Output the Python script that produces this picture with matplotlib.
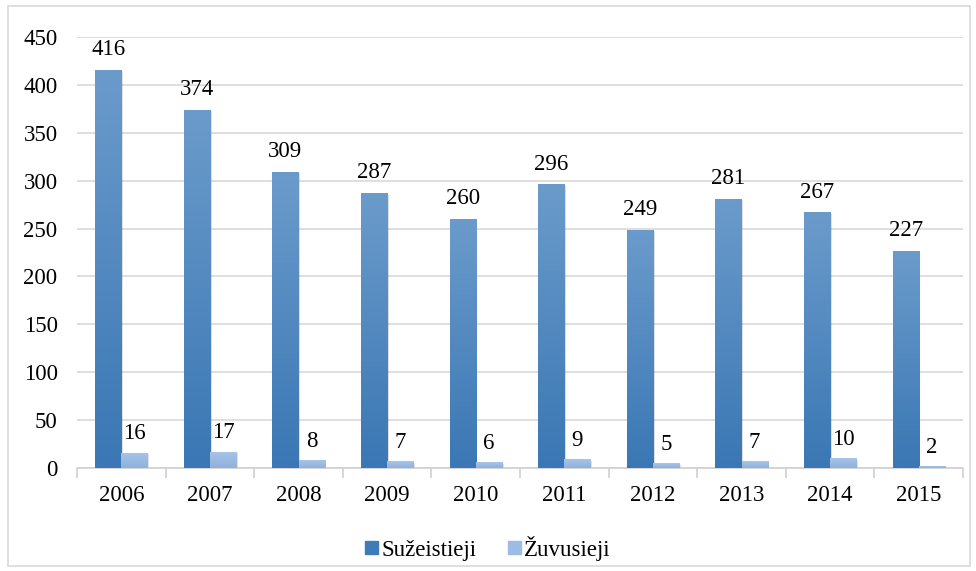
import matplotlib
matplotlib.use("Agg")
import matplotlib.pyplot as plt
import numpy as np
from matplotlib.colors import LinearSegmentedColormap
from matplotlib.patches import Rectangle

years = ["2006", "2007", "2008", "2009", "2010", "2011", "2012", "2013", "2014", "2015"]
suzeistieji = [416, 374, 309, 287, 260, 296, 249, 281, 267, 227]
zuvusieji = [16, 17, 8, 7, 6, 9, 5, 7, 10, 2]
series_names = ["Sužeistieji", "Žuvusieji"]

plt.rcParams['font.family'] = ['Liberation Serif', 'DejaVu Serif']
FS = 16.5

fig = plt.figure(figsize=(9.76, 5.71), dpi=100)
ax = fig.add_axes([0.0789, 0.1804, 0.9078, 0.7548])

x = np.arange(len(years))
w = 0.295
b1 = ax.bar(x - w/2, suzeistieji, w, color="#4F87C0", zorder=3)
b2 = ax.bar(x + w/2, zuvusieji, w, color="#9DBCE3", zorder=3)

ax.set_xlim(-0.5, len(years) - 0.5)
ax.set_ylim(0, 450)
ax.set_yticks(np.arange(0, 451, 50))

# gradients
cm1 = LinearSegmentedColormap.from_list("c1", ["#3A77B4", "#6B9BCB"])
cm2 = LinearSegmentedColormap.from_list("c2", ["#8EB1DD", "#A8C4E8"])
grad = np.linspace(0, 1, 256).reshape(-1, 1)
for bars, cm in ((b1, cm1), (b2, cm2)):
    for r in bars:
        bx, by = r.get_x(), r.get_y()
        bw, bh = r.get_width(), r.get_height()
        if bh <= 0:
            continue
        sh = Rectangle((bx + 0.02, by), bw, bh - 1.5, facecolor="#000000", alpha=0.12,
                       zorder=2, linewidth=0)
        ax.add_patch(sh)
        im = ax.imshow(grad, extent=[bx, bx + bw, by, by + bh], origin="lower",
                       cmap=cm, aspect="auto", zorder=4)
        im.set_clip_path(r)

ax.set_xlim(-0.5, len(years) - 0.5)
ax.set_ylim(0, 450)

for r, v in zip(b1, suzeistieji):
    ax.annotate(str(v), (r.get_x() + r.get_width()/2, v), xytext=(0, 7),
                textcoords="offset points", ha="center", va="bottom", fontsize=FS, zorder=5)
for r, v in zip(b2, zuvusieji):
    ax.annotate(str(v), (r.get_x() + r.get_width()/2, v), xytext=(0, 6),
                textcoords="offset points", ha="center", va="bottom", fontsize=FS, zorder=5)

ax.grid(axis="y", color="#D9D9D9", linewidth=1.2, zorder=0)
ax.set_axisbelow(True)
for s in ("top", "right", "left"):
    ax.spines[s].set_visible(False)
ax.spines["bottom"].set_color("#D0D0D0")
ax.spines["bottom"].set_linewidth(1.2)

ax.set_xticks(x)
ax.set_xticklabels(years, fontsize=FS)
ax.tick_params(axis="x", length=0, pad=12)
ax.set_xticks(np.arange(-0.5, len(years)), minor=True)
ax.tick_params(axis="x", which="minor", length=7, color="#D0D0D0", width=1.2)
ax.tick_params(axis="y", length=0, labelsize=FS, pad=14)

handles = [Rectangle((0, 0), 1, 1, color="#3F7BB7"), Rectangle((0, 0), 1, 1, color="#9DBCE3")]
fig.legend(handles, series_names, loc="center", bbox_to_anchor=(0.5, 0.04),
           ncol=2, frameon=False, fontsize=FS, handlelength=0.55, handleheight=0.55,
           handletextpad=0.15, columnspacing=1.4)

border = Rectangle((0.008, 0.008), 0.986, 0.982, transform=fig.transFigure, fill=False,
                   edgecolor="#D9D9D9", linewidth=1.2)
fig.patches.append(border)

fig.savefig("out.png", dpi=100)
